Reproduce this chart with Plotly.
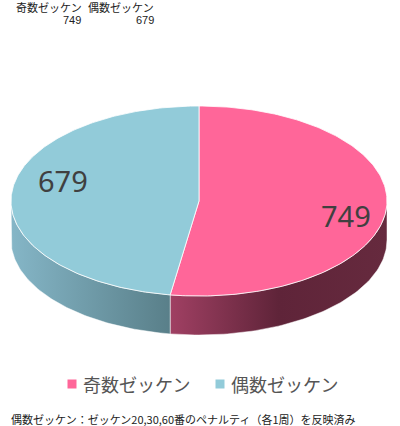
import numpy as np
import plotly.graph_objects as go

categories = ["奇数ゼッケン", "偶数ゼッケン"]
values = [749, 679]
colors = ["#FF6699", "#92CBD9"]
# side wall gradient, left to right
wall_colors = [
    [[0, "#A04063"], [0.5, "#5F2439"], [1, "#662A3E"]],
    [[0, "#85B6C7"], [1, "#597F89"]],
]
note = "偶数ゼッケン：ゼッケン20,30,60番のペナルティ（各1周）を反映済み"

W = 400
H = 426
CX = 199
CY = 201
RX = 188
RY = 95
DEPTH = 39
TEXT_COLOR = "#404040"
FONT = "Noto Sans CJK JP"


def ellipse(theta):
    # theta is clockwise from 12 o'clock
    return CX + RX * np.sin(theta), CY - RY * np.cos(theta)


fig = go.Figure()

fractions = np.array(values) / sum(values)
edges = np.concatenate([[0], np.cumsum(fractions)]) * 2 * np.pi

# side walls first, only the part facing the viewer
for i in range(len(values)):
    a = max(edges[i], np.pi / 2)
    b = min(edges[i + 1], 3 * np.pi / 2)
    if a >= b:
        continue
    t = np.linspace(a, b, 80)
    x, y = ellipse(t)
    fig.add_trace(go.Scatter(
        x=np.concatenate([x, x[::-1], x[:1]]),
        y=np.concatenate([y, y[::-1] + DEPTH, y[:1]]),
        mode="lines", line=dict(color="rgba(255,255,255,0.8)", width=0.6),
        fill="toself",
        fillgradient=dict(type="horizontal", colorscale=wall_colors[i]),
        hoverinfo="skip", showlegend=False,
    ))

# top face
for i in range(len(values)):
    t = np.linspace(edges[i], edges[i + 1], 200)
    x, y = ellipse(t)
    fig.add_trace(go.Scatter(
        x=np.concatenate([[CX], x, [CX]]),
        y=np.concatenate([[CY], y, [CY]]),
        mode="lines", line=dict(color="white", width=0.8),
        fill="toself", fillcolor=colors[i],
        name=categories[i], hoverinfo="name", showlegend=False,
    ))

# labels on the slices
label_pos = [(346, 215), (63, 180)]
for i in range(len(values)):
    fig.add_annotation(x=label_pos[i][0], y=label_pos[i][1], text=str(values[i]),
                       showarrow=False, font=dict(size=29, color=TEXT_COLOR, family="Noto Sans"))

# table at the top
head_x = [49, 121]
for i in range(len(values)):
    fig.add_annotation(x=head_x[i], y=7, text=categories[i], showarrow=False,
                       font=dict(size=11, color="#222222", family=FONT))
    fig.add_annotation(x=head_x[i] + 23 + i, y=20, text=str(values[i]), showarrow=False,
                       font=dict(size=11, color="#222222", family="Liberation Sans"))

# legend
legend_x = [72, 220]
for i in range(len(values)):
    fig.add_trace(go.Scatter(
        x=[legend_x[i]], y=[384], mode="markers",
        marker=dict(symbol="square", size=9, color=colors[i]),
        hoverinfo="skip", showlegend=False,
    ))
    fig.add_annotation(x=legend_x[i] + 9, y=384, text=categories[i], showarrow=False,
                       xanchor="left", font=dict(size=18, color="#555555", family=FONT))

fig.add_annotation(x=9, y=419, text=note, showarrow=False, xanchor="left",
                   font=dict(size=11, color="#222222", family=FONT))

fig.update_layout(
    width=W, height=H, margin=dict(l=0, r=0, t=0, b=0),
    paper_bgcolor="white", plot_bgcolor="white", showlegend=False,
    xaxis=dict(range=[0, W], visible=False, fixedrange=True),
    yaxis=dict(range=[H, 0], visible=False, fixedrange=True),
)

# page has a default body margin, drop it so the figure sits at 0,0
fig.write_html("out.html", config=dict(displayModeBar=False),
               post_script="document.body.style.margin='0';document.body.style.overflow='hidden';")
